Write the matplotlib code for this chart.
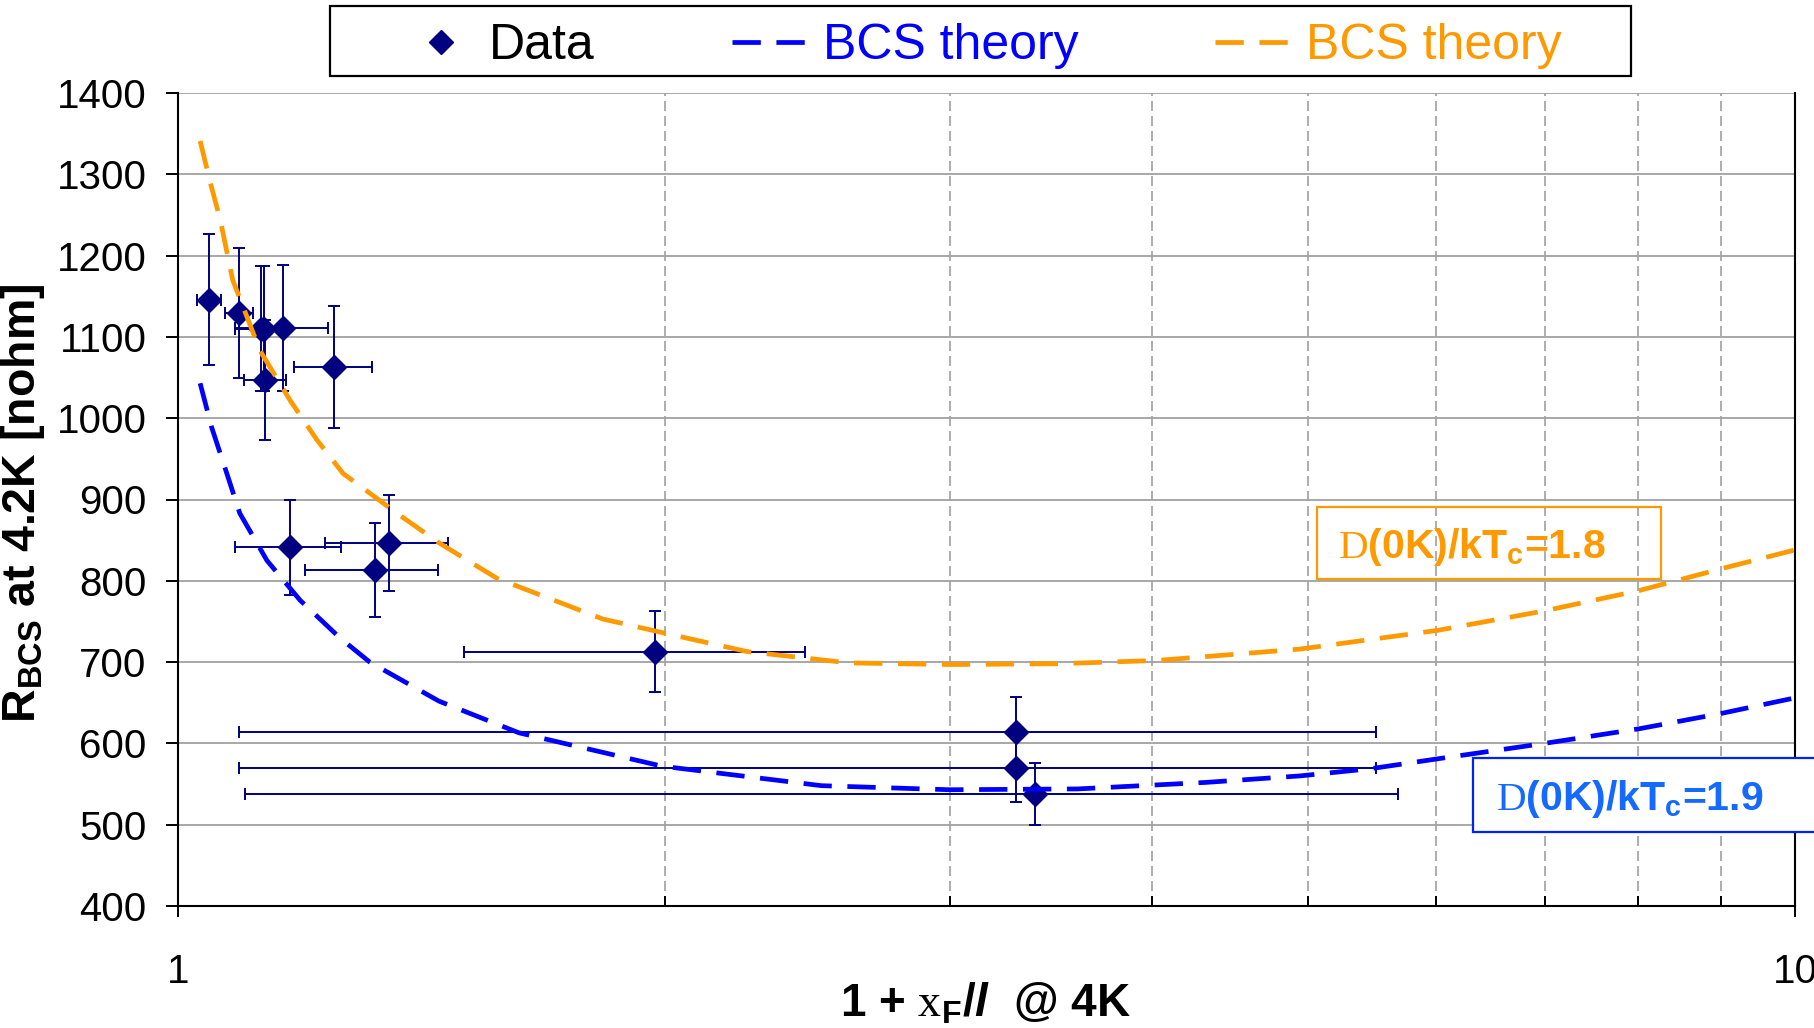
import matplotlib
matplotlib.use('Agg')
import matplotlib.pyplot as plt
from matplotlib.lines import Line2D
from matplotlib.patches import Rectangle
from matplotlib.ticker import LogLocator, NullFormatter, FixedLocator, FixedFormatter

plt.rcParams['font.family'] = ['Liberation Sans', 'DejaVu Sans']
plt.rcParams['mathtext.fontset'] = 'custom'
plt.rcParams['mathtext.rm'] = 'Liberation Sans'
plt.rcParams['mathtext.bf'] = 'Liberation Sans:bold'
plt.rcParams['mathtext.it'] = 'Liberation Sans:italic:bold'
plt.rcParams['mathtext.sf'] = 'Liberation Serif'

# measured samples: 1 + xF/l and Rbcs with error bars
x_data = [1.045, 1.091, 1.125, 1.130, 1.161, 1.132, 1.249, 1.173, 1.350, 1.324, 1.972, 3.30, 3.30, 3.39]
y_data = [1146, 1129, 1110, 1110, 1111, 1047, 1063, 841, 847, 813, 713, 614, 570, 538]
x_err = [0.018, 0.022, 0.04, 0.04, 0.077, 0.034, 0.07, 0.088, 0.118, 0.125, 0.47, 2.21, 2.21, 2.29]
y_err = [80, 80, 77, 77, 78, 74, 75, 59, 59, 58, 50, 43, 42, 38]

# BCS theory, gap ratio 1.9
bcs19_x = [1.032, 1.049, 1.072, 1.092, 1.135, 1.190, 1.259, 1.314, 1.450, 1.625, 1.992,
           2.50, 3.0, 3.6, 4.32, 4.94, 5.47, 6.01, 7.0, 8.01, 9.01, 10.0]
bcs19_y = [1043, 989, 932, 883, 825, 776, 730, 700, 652, 613, 572,
           548, 543, 544, 552, 560, 569, 581, 600, 618, 637, 656]

# BCS theory, gap ratio 1.8
bcs18_x = [1.032, 1.047, 1.062, 1.081, 1.124, 1.173, 1.219, 1.265, 1.366, 1.452, 1.575,
           1.831, 2.006, 2.248, 2.60, 3.0, 3.5, 4.03, 4.94, 6.01, 7.0, 8.01, 9.01, 10.0]
bcs18_y = [1341, 1290, 1244, 1170, 1083, 1022, 973, 932, 883, 846, 803,
           753, 735, 713, 699, 697, 698, 702, 716, 739, 763, 788, 815, 838]

y_ticks = [400, 500, 600, 700, 800, 900, 1000, 1100, 1200, 1300, 1400]

navy = '#000080'
blue = '#0000ff'
orange = '#ff9900'

W, H = 1814, 1028
fig = plt.figure(figsize=(W / 100, H / 100), dpi=100)
ax = fig.add_axes([178 / W, 1 - 906 / H, (1795 - 178) / W, (906 - 93) / H])

ax.errorbar(x_data, y_data, xerr=x_err, yerr=y_err, fmt='D', color=navy, ms=12,
            ecolor=navy, elinewidth=1.4, capsize=4.5, capthick=1.4, zorder=5)
ax.plot(bcs19_x, bcs19_y, color=blue, lw=3.4, dashes=(6, 3.3), zorder=6)
ax.plot(bcs18_x, bcs18_y, color=orange, lw=3.4, dashes=(6, 3.3), zorder=6)

ax.set_xscale('log')
ax.set_xlim(1, 10)
ax.set_ylim(400, 1400)
ax.xaxis.set_major_locator(FixedLocator([1, 10]))
ax.xaxis.set_major_formatter(FixedFormatter(['1', '10']))
ax.xaxis.set_minor_locator(LogLocator(subs=range(2, 10)))
ax.xaxis.set_minor_formatter(NullFormatter())
ax.set_yticks(y_ticks)

ax.set_axisbelow(True)
ax.grid(axis='y', which='major', color='#a0a0a0', lw=1.3, ls='-')
ax.grid(axis='x', which='minor', color='#a0a0a0', lw=1.2, ls=(0, (6, 3)))

ax.tick_params(axis='y', direction='out', length=8.6, width=1.4, labelsize=29, pad=14)
ax.tick_params(axis='x', which='major', direction='inout', length=16, width=1.4,
               labelsize=29, pad=26)
ax.tick_params(axis='x', which='minor', direction='in', length=7, width=1.4)

for side in ['left', 'bottom', 'right']:
    ax.spines[side].set_color('black')
    ax.spines[side].set_linewidth(1.5)
ax.spines['top'].set_visible(False)

fig.text(23 / W, 1 - 503 / H, r'R$_{\mathbf{BCS}}$ at 4.2K [nohm]', rotation=90,
         ha='center', va='center', fontsize=33.5, fontweight='bold')
fig.text(985 / W, 1 - 1004 / H, r'1 + $\mathsf{x}_{\mathbf{F}}$/$\mathit{l}$  @ 4K',
         ha='center', va='center', fontsize=33, fontweight='bold')

# legend in a plain black frame above the plot
handles = [
    Line2D([], [], marker='D', ls='none', color=navy, ms=12),
    Line2D([], [], color=blue, lw=3.4, dashes=(6, 3.3)),
    Line2D([], [], color=orange, lw=3.4, dashes=(6, 3.3)),
]
leg = fig.legend(handles, ['Data', 'BCS theory', 'BCS theory'], loc='center left',
                 bbox_to_anchor=(398 / W, 1 - 46 / H), ncol=3, frameon=False,
                 fontsize=36, handlelength=1.7, handletextpad=0.12,
                 columnspacing=2.74, borderpad=0, borderaxespad=0, numpoints=1)
for txt, c in zip(leg.get_texts(), ['black', blue, orange]):
    txt.set_color(c)
fig.patches.append(Rectangle((330 / W, 1 - 76 / H), (1631 - 330) / W, 70 / H,
                             transform=fig.transFigure, fill=False, ec='black', lw=1.6))

# gap ratio labels
fig.patches.append(Rectangle((1317 / W, 1 - 579 / H), (1661 - 1317) / W, 72 / H,
                             transform=fig.transFigure, fill=False, ec=orange, lw=1.6))
fig.text(1338 / W, 1 - 558 / H, r'$\mathsf{D}$(0K)/kT$_{\mathbf{c}}$=1.8', color=orange,
         fontsize=29.5, fontweight='bold', ha='left', va='baseline')

fig.patches.append(Rectangle((1473 / W, 1 - 832 / H), (1840 - 1473) / W, 74 / H,
                             transform=fig.transFigure, fc='white', ec='#0022ff', lw=1.6))
fig.text(1496 / W, 1 - 810 / H, r'$\mathsf{D}$(0K)/kT$_{\mathbf{c}}$=1.9', color='#1469ff',
         fontsize=29.5, fontweight='bold', ha='left', va='baseline')

fig.savefig('out.png', dpi=100)
